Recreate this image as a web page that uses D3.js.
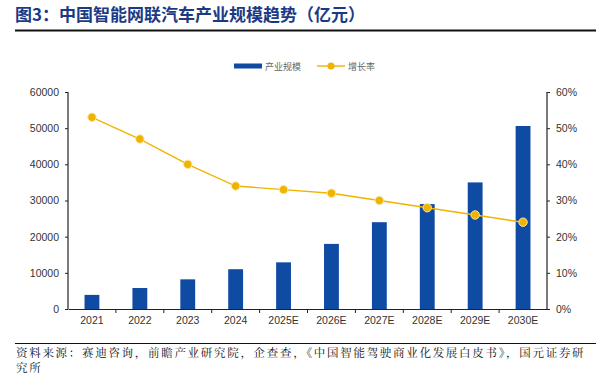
<!DOCTYPE html>
<html>
<head>
<meta charset="utf-8">
<script src="https://cdn.jsdelivr.net/npm/d3@7"></script>
<style>
  body { margin: 0; background: #fff; }
  svg { display: block; }
</style>
</head>
<body>
<svg id="chart" width="600" height="376"></svg>
<script>
const years = ['2021', '2022', '2023', '2024', '2025E', '2026E', '2027E', '2028E', '2029E', '2030E'];
const scaleValues = [3900, 5800, 8200, 11000, 12900, 18000, 24000, 29000, 35000, 50600];
const growthRates = [0.53, 0.47, 0.40, 0.34, 0.33, 0.32, 0.30, 0.28, 0.26, 0.24];
const leftTicks = [0, 10000, 20000, 30000, 40000, 50000, 60000];
const rightTicks = [0, 0.1, 0.2, 0.3, 0.4, 0.5, 0.6];

const BAR_COLOR = '#0f4aa3';
const LINE_COLOR = '#f0b400';
const FONT = '"Liberation Sans", Arial, sans-serif';
const CJK = '"Noto Sans CJK SC", sans-serif';

const svg = d3.select('#chart');
const plot = { left: 68, right: 547, top: 92, bottom: 309 };

// title
svg.append('text')
  .attr('x', 15).attr('y', 21)
  .attr('font-family', CJK).attr('font-weight', 'bold')
  .attr('font-size', 17).attr('fill', '#1b3a86')
  .text('图3：中国智能网联汽车产业规模趋势（亿元）');
svg.append('line')
  .attr('x1', 15).attr('x2', 596).attr('y1', 30.5).attr('y2', 30.5)
  .attr('stroke', '#111').attr('stroke-width', 2);

const x = d3.scaleBand().domain(years).range([plot.left, plot.right]).paddingInner(0.69).paddingOuter(0.345);
const band = d3.scaleBand().domain(years).range([plot.left, plot.right]);
const yL = d3.scaleLinear().domain([0, 60000]).range([plot.bottom, plot.top]);
const yR = d3.scaleLinear().domain([0, 0.6]).range([plot.bottom, plot.top]);

// bars
svg.append('g').selectAll('rect')
  .data(years)
  .enter().append('rect')
  .attr('x', d => x(d))
  .attr('width', x.bandwidth())
  .attr('y', (d, i) => yL(scaleValues[i]))
  .attr('height', (d, i) => plot.bottom - yL(scaleValues[i]))
  .attr('fill', BAR_COLOR);

// axes
const leftAxis = svg.append('g')
  .attr('transform', `translate(${plot.left},0)`)
  .call(d3.axisLeft(yL).tickValues(leftTicks).tickSize(3).tickPadding(6).tickFormat(d3.format('d')));
const rightAxis = svg.append('g')
  .attr('transform', `translate(${plot.right},0)`)
  .call(d3.axisRight(yR).tickValues(rightTicks).tickSize(3).tickPadding(6).tickFormat(d3.format('.0%')));
const bottomAxis = svg.append('g')
  .attr('transform', `translate(0,${plot.bottom})`)
  .call(d3.axisBottom(band).tickSize(0).tickPadding(8));

// category separators on the x axis
bottomAxis.selectAll('.sep')
  .data(years.slice(1))
  .enter().append('line')
  .attr('class', 'sep')
  .attr('x1', d => band(d)).attr('x2', d => band(d))
  .attr('y1', 0).attr('y2', 4)
  .attr('stroke', '#222');

[leftAxis, rightAxis, bottomAxis].forEach(g => {
  g.selectAll('path.domain').attr('stroke', '#222').attr('stroke-width', 1.2);
  g.selectAll('.tick line').attr('stroke', '#222');
  g.selectAll('text').attr('font-family', FONT).attr('font-size', 10.5).attr('fill', '#333');
});
leftAxis.select('path.domain').attr('d', `M0,${plot.top}V${plot.bottom}`);
rightAxis.select('path.domain').attr('d', `M0,${plot.top}V${plot.bottom}`);

// growth line
const line = d3.line()
  .x((d, i) => band(years[i]) + band.bandwidth() / 2)
  .y(d => yR(d));
svg.append('path')
  .datum(growthRates)
  .attr('d', line)
  .attr('fill', 'none')
  .attr('stroke', LINE_COLOR)
  .attr('stroke-width', 1.4);
svg.append('g').selectAll('circle')
  .data(growthRates)
  .enter().append('circle')
  .attr('cx', (d, i) => band(years[i]) + band.bandwidth() / 2)
  .attr('cy', d => yR(d))
  .attr('r', 4.2)
  .attr('fill', LINE_COLOR)
  .attr('stroke', '#fbe6a0')
  .attr('stroke-width', 1);

// legend
const legend = svg.append('g').attr('transform', 'translate(234,66)');
legend.append('rect').attr('x', 0).attr('y', -2.5).attr('width', 28).attr('height', 5).attr('fill', BAR_COLOR);
legend.append('text').attr('x', 31).attr('y', 4)
  .attr('font-family', CJK).attr('font-size', 9).attr('fill', '#666')
  .text('产业规模');
legend.append('line').attr('x1', 83).attr('x2', 111).attr('y1', 0).attr('y2', 0)
  .attr('stroke', LINE_COLOR).attr('stroke-width', 1.4);
legend.append('circle').attr('cx', 97).attr('cy', 0).attr('r', 3.5).attr('fill', LINE_COLOR);
legend.append('text').attr('x', 114).attr('y', 4)
  .attr('font-family', CJK).attr('font-size', 9).attr('fill', '#666')
  .text('增长率');

// source
svg.append('line')
  .attr('x1', 15).attr('x2', 596).attr('y1', 343.5).attr('y2', 343.5)
  .attr('stroke', '#111').attr('stroke-width', 1);
const srcFont = '"Noto Serif CJK SC", "Noto Sans CJK SC", serif';
svg.append('text')
  .attr('x', 16).attr('y', 356.5)
  .attr('font-family', srcFont).attr('font-size', 11.5).attr('fill', '#111')
  .attr('letter-spacing', 1.7)
  .text('资料来源：赛迪咨询，前瞻产业研究院，企查查，《中国智能驾驶商业化发展白皮书》，国元证券研');
svg.append('text')
  .attr('x', 16).attr('y', 371.5)
  .attr('font-family', srcFont).attr('font-size', 11.5).attr('fill', '#111')
  .attr('letter-spacing', 1.7)
  .text('究所');
</script>
</body>
</html>
